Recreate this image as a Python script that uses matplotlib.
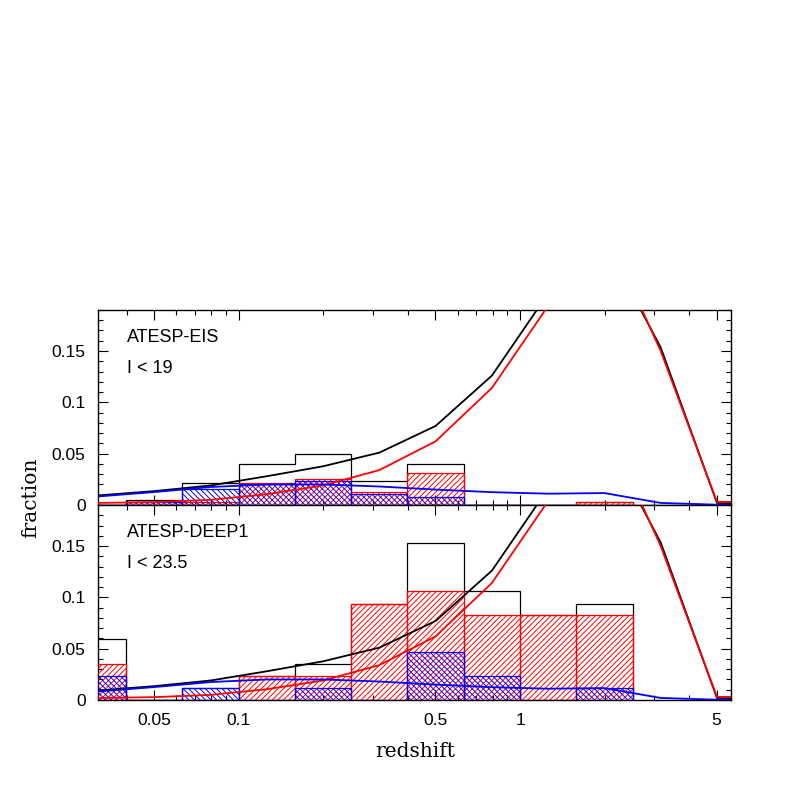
import numpy as np
import matplotlib
matplotlib.use("Agg")
import matplotlib.pyplot as plt
from matplotlib.ticker import FixedLocator, FuncFormatter, MultipleLocator

plt.rcParams['font.family'] = ['Liberation Sans', 'DejaVu Sans']
plt.rcParams['hatch.linewidth'] = 0.7

# histogram bin edges, in log10(z)
log_edges = [-1.6, -1.4, -1.2, -1.0, -0.8, -0.6, -0.4, -0.2, 0.0, 0.2, 0.4]

# ATESP-EIS, I < 19
eis_all = [0.0, 0.005, 0.0215, 0.040, 0.050, 0.023, 0.040, 0.0, 0.0, 0.003]
eis_red = [0.0, 0.0025, 0.003, 0.0215, 0.0257, 0.013, 0.031, 0.0, 0.0, 0.003]
eis_blue = [0.0, 0.0025, 0.0155, 0.0205, 0.023, 0.011, 0.0076, 0.0, 0.0, 0.0]

# ATESP-DEEP1, I < 23.5
deep_all = [0.059, 0.0, 0.012, 0.0235, 0.035, 0.094, 0.153, 0.106, 0.0825, 0.094]
deep_red = [0.035, 0.0, 0.0, 0.0235, 0.0235, 0.094, 0.106, 0.0825, 0.0825, 0.0825]
deep_blue = [0.0235, 0.0, 0.012, 0.0, 0.012, 0.0, 0.047, 0.0235, 0.0, 0.012]

# model curves, sampled at bin centres (log10 z)
log_model = [-1.5, -1.3, -1.1, -0.9, -0.7, -0.5, -0.3, -0.1, 0.1, 0.3, 0.5, 0.7, 0.9]
model_all = [0.0093, 0.0135, 0.019, 0.028, 0.0377, 0.051, 0.077, 0.126, 0.206, 0.257, 0.1535, 0.002, 0.001]
model_red = [0.002, 0.0028, 0.005, 0.0105, 0.019, 0.034, 0.062, 0.114, 0.194, 0.271, 0.150, 0.003, 0.003]
model_blue = [0.0083, 0.0126, 0.0175, 0.020, 0.020, 0.018, 0.015, 0.0125, 0.011, 0.0116, 0.002, 0.0003, 0.0001]

panels = [("ATESP-EIS", "I < 19", eis_all, eis_red, eis_blue),
          ("ATESP-DEEP1", "I < 23.5", deep_all, deep_red, deep_blue)]

edges = 10 ** np.array(log_edges)
zmod = 10 ** np.array(log_model)

fig = plt.figure(figsize=(7.97, 7.97), dpi=100)
ax_top = fig.add_axes([0.123, 0.3664, 0.7942, 0.2447])
ax_bot = fig.add_axes([0.123, 0.1217, 0.7942, 0.2447])

for ax, (name, cut, h_all, h_red, h_blue) in zip([ax_top, ax_bot], panels):
    ax.set_xscale('log')
    # black: all sources, plain step outline
    ax.stairs(h_all, edges, color='black', lw=0.9, zorder=2)
    # red and blue: hatched bins
    ax.bar(edges[:-1], h_red, width=np.diff(edges), align='edge', fill=False,
           edgecolor='red', hatch='//////', lw=0.9, zorder=3)
    ax.bar(edges[:-1], h_blue, width=np.diff(edges), align='edge', fill=False,
           edgecolor='blue', hatch='\\\\\\\\\\\\', lw=0.9, zorder=4)
    # model predictions
    ax.plot(zmod, model_all, color='black', lw=1.3, zorder=5)
    ax.plot(zmod, model_red, color='red', lw=1.3, zorder=6)
    ax.plot(zmod, model_blue, color='blue', lw=1.3, zorder=7)

    ax.set_xlim(10 ** -1.5, 10 ** 0.75)
    ax.set_ylim(0, 0.19)
    ax.text(0.046, 0.835, name, transform=ax.transAxes, fontsize=13, va='baseline')
    ax.text(0.046, 0.675, cut, transform=ax.transAxes, fontsize=13, va='baseline')

    ax.xaxis.set_major_locator(FixedLocator([0.05, 0.1, 0.5, 1, 5]))
    ax.xaxis.set_minor_locator(FixedLocator([0.04, 0.06, 0.07, 0.08, 0.09, 0.2, 0.3, 0.4,
                                             0.6, 0.7, 0.8, 0.9, 2, 3, 4]))
    ax.xaxis.set_major_formatter(FuncFormatter(lambda v, p: '%g' % v))
    ax.xaxis.set_minor_formatter(FuncFormatter(lambda v, p: ''))
    ax.yaxis.set_major_locator(MultipleLocator(0.05))
    ax.yaxis.set_minor_locator(MultipleLocator(0.01))
    ax.yaxis.set_major_formatter(FuncFormatter(lambda v, p: '%g' % round(v, 3)))
    ax.tick_params(which='both', direction='in', top=True, right=True, width=0.8,
                   labelsize=12.5)
    ax.tick_params(which='major', length=7, pad=9)
    ax.tick_params(which='minor', length=3.5)
    for s in ax.spines.values():
        s.set_linewidth(1.0)

ax_top.tick_params(labelbottom=False)

fig.text(0.521, 0.050, 'redshift', family='DejaVu Serif', fontsize=14.5,
         ha='center', va='baseline')
fig.text(0.038, 0.376, 'fraction', family='DejaVu Serif', fontsize=14.5,
         ha='center', va='center', rotation=90)

fig.savefig('out.png', dpi=100)
